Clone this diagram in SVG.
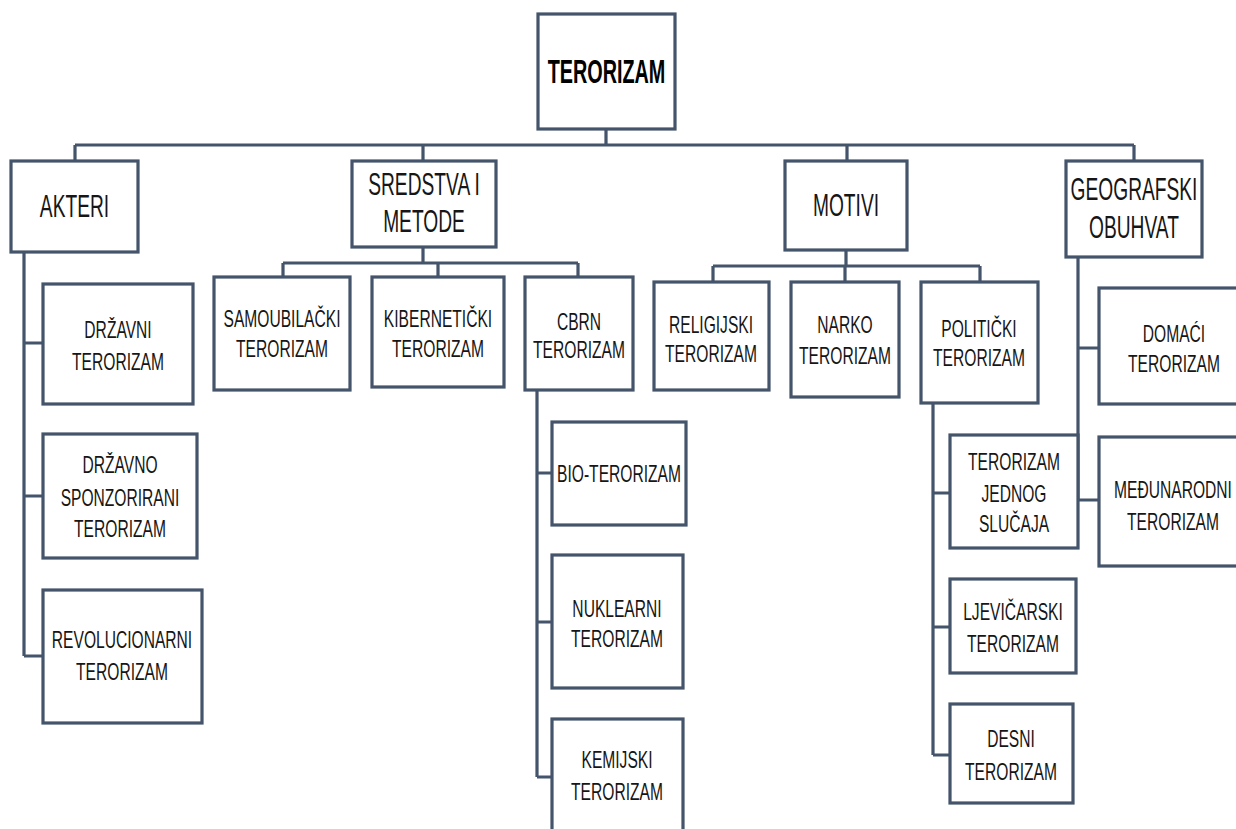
<svg xmlns="http://www.w3.org/2000/svg" width="1236" height="829" viewBox="0 0 1236 829">
<style>
.box{fill:#fff;stroke:#44546A;stroke-width:3.2}
.c{fill:none;stroke:#44546A;stroke-width:3.2}
text{font-family:"Liberation Sans",Arial,sans-serif;fill:#161616;text-anchor:middle}
.s{font-size:24px}
.l{font-size:32px}
.b{font-size:33px;font-weight:bold;fill:#000}
</style>
<rect width="1236" height="829" fill="#fff"/>
<g id="connectors">
<path class="c" d="M606,129V145M75,145H1134M75,145V161M423,145V161M847,145V161M1134,145V161"/>
<path class="c" d="M423,247V263M283,263H578M283,263V277M438,263V277M578,263V277"/>
<path class="c" d="M846,250V266M713,266H980M713,266V282M845,266V282M980,266V282"/>
<path class="c" d="M24,252V656M24,343H43M24,496H43M24,656H43"/>
<path class="c" d="M537,390V777M537,473H552M537,622H552M537,777H552"/>
<path class="c" d="M933,403V755M933,493H950M933,627H950M933,755H950"/>
<path class="c" d="M1078,257V500M1078,348H1099M1078,500H1099"/>
</g>
<g id="terorizam"><rect class="box" x="538" y="14" width="137" height="115"/><text class="b" transform="matrix(0.6,0,0,1,606.5,83)">TERORIZAM</text></g>
<g id="akteri"><rect class="box" x="11" y="161" width="127" height="91"/><text class="l" transform="matrix(0.6,0,0,1,74.5,217)">AKTERI</text></g>
<g id="sredstva"><rect class="box" x="352" y="161" width="144" height="86"/><text class="l" transform="matrix(0.6,0,0,1,424,195)">SREDSTVA I</text><text class="l" transform="matrix(0.6,0,0,1,424,232)">METODE</text></g>
<g id="motivi"><rect class="box" x="785" y="161" width="122" height="89"/><text class="l" transform="matrix(0.6,0,0,1,846,216)">MOTIVI</text></g>
<g id="geografski"><rect class="box" x="1066" y="161" width="136" height="96"/><text class="l" transform="matrix(0.6,0,0,1,1134,200)">GEOGRAFSKI</text><text class="l" transform="matrix(0.6,0,0,1,1134,238)">OBUHVAT</text></g>
<g id="samoubilacki"><rect class="box" x="214" y="277" width="136" height="113"/><text class="s" transform="matrix(0.65,0,0,1,282,327)">SAMOUBILAČKI</text><text class="s" transform="matrix(0.65,0,0,1,282,357)">TERORIZAM</text></g>
<g id="kiberneticki"><rect class="box" x="372" y="277" width="132" height="110"/><text class="s" transform="matrix(0.65,0,0,1,438,327)">KIBERNETIČKI</text><text class="s" transform="matrix(0.65,0,0,1,438,357)">TERORIZAM</text></g>
<g id="cbrn"><rect class="box" x="525" y="277" width="108" height="113"/><text class="s" transform="matrix(0.65,0,0,1,579,330)">CBRN</text><text class="s" transform="matrix(0.65,0,0,1,579,358)">TERORIZAM</text></g>
<g id="religijski"><rect class="box" x="654" y="282" width="115" height="108"/><text class="s" transform="matrix(0.65,0,0,1,711,333)">RELIGIJSKI</text><text class="s" transform="matrix(0.65,0,0,1,711,362)">TERORIZAM</text></g>
<g id="narko"><rect class="box" x="791" y="282" width="108" height="115"/><text class="s" transform="matrix(0.65,0,0,1,845,333)">NARKO</text><text class="s" transform="matrix(0.65,0,0,1,845,364)">TERORIZAM</text></g>
<g id="politicki"><rect class="box" x="921" y="282" width="117" height="121"/><text class="s" transform="matrix(0.65,0,0,1,979,337)">POLITIČKI</text><text class="s" transform="matrix(0.65,0,0,1,979,366)">TERORIZAM</text></g>
<g id="drzavni"><rect class="box" x="43" y="284" width="150" height="120"/><text class="s" transform="matrix(0.65,0,0,1,118,338)">DRŽAVNI</text><text class="s" transform="matrix(0.65,0,0,1,118,370)">TERORIZAM</text></g>
<g id="drzavno-sponzorirani"><rect class="box" x="43" y="434" width="154" height="124"/><text class="s" transform="matrix(0.65,0,0,1,120,473)">DRŽAVNO</text><text class="s" transform="matrix(0.65,0,0,1,120,506)">SPONZORIRANI</text><text class="s" transform="matrix(0.65,0,0,1,120,537)">TERORIZAM</text></g>
<g id="revolucionarni"><rect class="box" x="43" y="590" width="159" height="133"/><text class="s" transform="matrix(0.65,0,0,1,122,648)">REVOLUCIONARNI</text><text class="s" transform="matrix(0.65,0,0,1,122,680)">TERORIZAM</text></g>
<g id="bio"><rect class="box" x="552" y="422" width="134" height="103"/><text class="s" transform="matrix(0.65,0,0,1,619,482)">BIO-TERORIZAM</text></g>
<g id="nuklearni"><rect class="box" x="552" y="555" width="131" height="133"/><text class="s" transform="matrix(0.65,0,0,1,617,617)">NUKLEARNI</text><text class="s" transform="matrix(0.65,0,0,1,617,647)">TERORIZAM</text></g>
<g id="kemijski"><rect class="box" x="552" y="719" width="131" height="120"/><text class="s" transform="matrix(0.65,0,0,1,617,768)">KEMIJSKI</text><text class="s" transform="matrix(0.65,0,0,1,617,800)">TERORIZAM</text></g>
<g id="jednog-slucaja"><rect class="box" x="950" y="435" width="128" height="113"/><text class="s" transform="matrix(0.65,0,0,1,1014,470)">TERORIZAM</text><text class="s" transform="matrix(0.65,0,0,1,1014,502)">JEDNOG</text><text class="s" transform="matrix(0.65,0,0,1,1014,532)">SLUČAJA</text></g>
<g id="ljevicarski"><rect class="box" x="950" y="579" width="126" height="94"/><text class="s" transform="matrix(0.65,0,0,1,1013,620)">LJEVIČARSKI</text><text class="s" transform="matrix(0.65,0,0,1,1013,652)">TERORIZAM</text></g>
<g id="desni"><rect class="box" x="950" y="704" width="123" height="99"/><text class="s" transform="matrix(0.65,0,0,1,1011,747)">DESNI</text><text class="s" transform="matrix(0.65,0,0,1,1011,780)">TERORIZAM</text></g>
<g id="domaci"><rect class="box" x="1099" y="288" width="150" height="116"/><text class="s" transform="matrix(0.65,0,0,1,1174,342)">DOMAĆI</text><text class="s" transform="matrix(0.65,0,0,1,1174,372)">TERORIZAM</text></g>
<g id="medjunarodni"><rect class="box" x="1099" y="437" width="150" height="129"/><text class="s" transform="matrix(0.65,0,0,1,1173,498)">MEĐUNARODNI</text><text class="s" transform="matrix(0.65,0,0,1,1173,530)">TERORIZAM</text></g>
</svg>
